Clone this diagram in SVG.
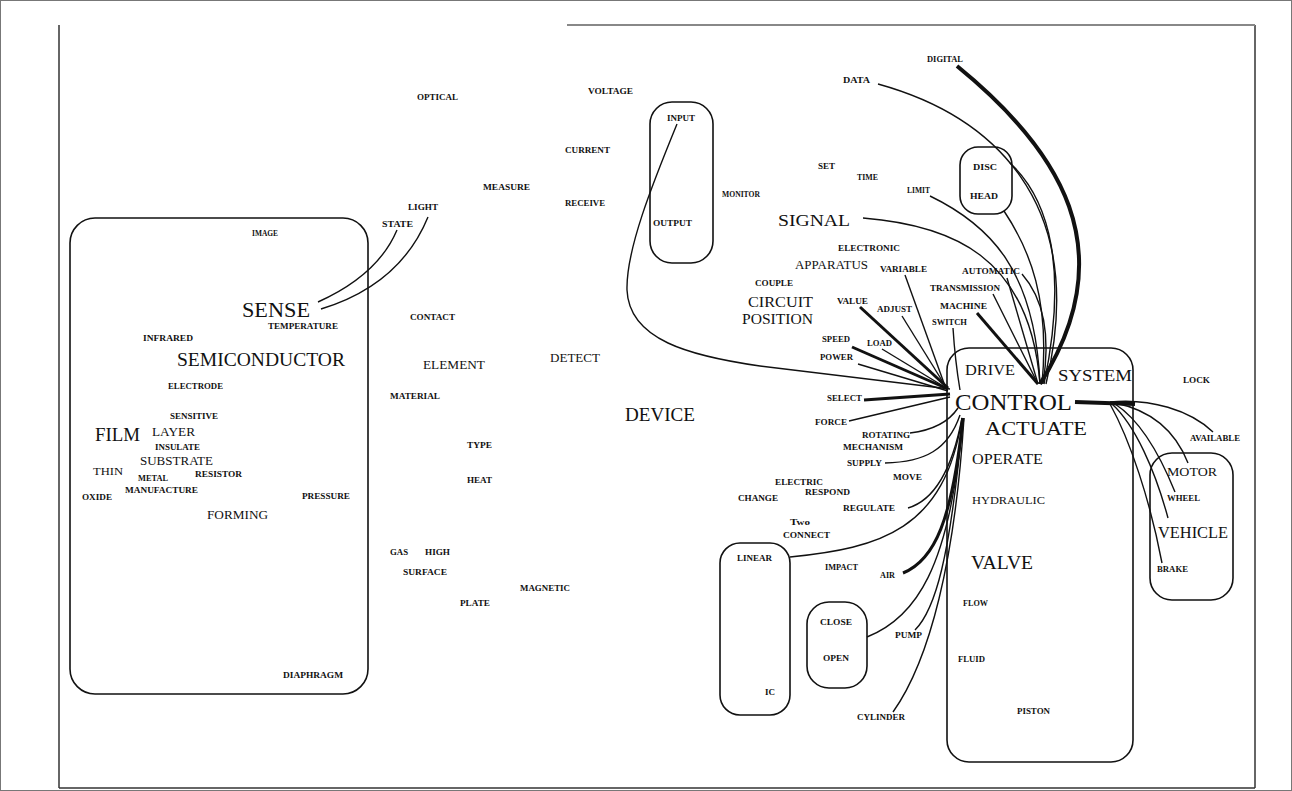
<svg xmlns="http://www.w3.org/2000/svg" width="1292" height="791" viewBox="0 0 1292 791">
<style>
text{font-family:"Liberation Serif","Times New Roman",serif;fill:#111}
.s{font-size:8px;font-weight:bold}
.b{font-weight:normal}
.box{fill:none;stroke:#111;stroke-width:1.6}
.e{fill:none;stroke:#111;stroke-width:1.4}
.t{stroke-width:3}
.tt{stroke-width:4}
.fr{stroke:#333;stroke-width:1.5;fill:none}
</style>
<rect x="0" y="0" width="1292" height="791" fill="#fff"/>
<rect x="0.5" y="0.5" width="1291" height="790" fill="none" stroke="#777" stroke-width="1"/>
<g id="frame">
<line class="fr" x1="59" y1="25" x2="59" y2="788"/>
<line class="fr" x1="59" y1="788" x2="1255" y2="788"/>
<line class="fr" x1="1255" y1="25" x2="1255" y2="788"/>
<line x1="567" y1="25" x2="1255" y2="25" stroke="#888" stroke-width="2"/>
</g>
<g id="connectors">
<path class="e" d="M318,302 Q378,275 397,230"/>
<path class="e" d="M321,309 Q400,285 428,217"/>
<path class="e" d="M677,124 C652,185 626,250 627,290 C629,340 690,356 760,366 L950,389"/>
<path class="e" d="M905,275 L945,386"/>
<path class="e t" d="M860,307 L948,388"/>
<path class="e" d="M902,316 L946,387"/>
<path class="e" d="M953,328 Q955,360 960,390"/>
<path class="e t" d="M852,347 L948,389"/>
<path class="e" d="M882,349 L948,389"/>
<path class="e" d="M858,364 L948,391"/>
<path class="e t" d="M864,400 L950,394"/>
<path class="e" d="M849,421 L950,397"/>
<path class="e tt" d="M957,66 C1060,150 1125,250 1040,384"/>
<path class="e" d="M878,84 C990,115 1090,200 1046,384"/>
<path class="e" d="M1010,163 C1050,200 1068,270 1044,384"/>
<path class="e" d="M1004,211 C1030,250 1050,300 1042,384"/>
<path class="e" d="M930,196 C990,225 1035,270 1040,384"/>
<path class="e" d="M863,218 C950,225 1030,255 1040,384"/>
<path class="e" d="M1007,278 L1038,384"/>
<path class="e" d="M1022,274 C1045,300 1050,340 1043,384"/>
<path class="e" d="M993,294 L1038,384"/>
<path class="e t" d="M977,313 L1038,384"/>
<path class="e tt" d="M1075,402 L1135,404"/>
<path class="e" d="M1110,402 C1150,398 1190,410 1213,432"/>
<path class="e" d="M1115,403 C1150,410 1175,430 1188,463"/>
<path class="e" d="M1115,404 C1140,420 1160,455 1175,492"/>
<path class="e" d="M1112,404 C1135,425 1155,470 1168,518"/>
<path class="e" d="M1110,404 C1130,440 1150,500 1162,563"/>
<path class="e" d="M910,433 C935,430 950,420 958,408"/>
<path class="e" d="M885,463 C925,462 948,450 960,415"/>
<path class="e" d="M908,508 C935,500 952,470 962,418"/>
<path class="e" d="M790,557 C880,548 945,530 962,418"/>
<path class="e t" d="M903,573 C935,560 952,520 963,418"/>
<path class="e" d="M867,637 C915,618 950,570 963,418"/>
<path class="e" d="M915,630 C935,610 950,560 963,418"/>
<path class="e" d="M893,712 C930,660 955,560 964,418"/>
</g>
<g id="box-sense"><rect class="box" x="70" y="218" width="298" height="476" rx="25"/></g>
<g id="box-io"><rect class="box" x="650" y="102" width="63" height="161" rx="22"/></g>
<g id="box-disc"><rect class="box" x="960" y="147" width="52" height="67" rx="18"/></g>
<g id="box-control"><rect class="box" x="947" y="348" width="186" height="414" rx="22"/></g>
<g id="box-vehicle"><rect class="box" x="1150" y="453" width="83" height="147" rx="22"/></g>
<g id="box-linear"><rect class="box" x="720" y="543" width="70" height="172" rx="20"/></g>
<g id="box-close"><rect class="box" x="807" y="602" width="60" height="86" rx="22"/></g>
<g id="n-image"><text class="s" x="252" y="236" textLength="26" lengthAdjust="spacingAndGlyphs">IMAGE</text></g>
<g id="n-sense"><text class="b" font-size="20" x="242" y="317" textLength="68" lengthAdjust="spacingAndGlyphs">SENSE</text></g>
<g id="n-temperature"><text class="s" x="268" y="329" textLength="70" lengthAdjust="spacingAndGlyphs">TEMPERATURE</text></g>
<g id="n-infrared"><text class="s" x="143" y="341" textLength="50" lengthAdjust="spacingAndGlyphs">INFRARED</text></g>
<g id="n-semiconductor"><text class="b" font-size="18" x="177" y="366" textLength="168" lengthAdjust="spacingAndGlyphs">SEMICONDUCTOR</text></g>
<g id="n-electrode"><text class="s" x="168" y="389" textLength="55" lengthAdjust="spacingAndGlyphs">ELECTRODE</text></g>
<g id="n-sensitive"><text class="s" x="170" y="419" textLength="48" lengthAdjust="spacingAndGlyphs">SENSITIVE</text></g>
<g id="n-film"><text class="b" font-size="18" x="95" y="441" textLength="45" lengthAdjust="spacingAndGlyphs">FILM</text></g>
<g id="n-layer"><text class="b" font-size="12" x="152" y="436" textLength="43" lengthAdjust="spacingAndGlyphs">LAYER</text></g>
<g id="n-insulate"><text class="s" x="155" y="450" textLength="45" lengthAdjust="spacingAndGlyphs">INSULATE</text></g>
<g id="n-substrate"><text class="b" font-size="12" x="140" y="465" textLength="73" lengthAdjust="spacingAndGlyphs">SUBSTRATE</text></g>
<g id="n-thin"><text class="b" font-size="11" x="93" y="475" textLength="30" lengthAdjust="spacingAndGlyphs">THIN</text></g>
<g id="n-metal"><text class="s" x="138" y="481" textLength="30" lengthAdjust="spacingAndGlyphs">METAL</text></g>
<g id="n-resistor"><text class="s" x="195" y="477" textLength="47" lengthAdjust="spacingAndGlyphs">RESISTOR</text></g>
<g id="n-oxide"><text class="s" x="82" y="500" textLength="30" lengthAdjust="spacingAndGlyphs">OXIDE</text></g>
<g id="n-manufacture"><text class="s" x="125" y="493" textLength="73" lengthAdjust="spacingAndGlyphs">MANUFACTURE</text></g>
<g id="n-pressure"><text class="s" x="302" y="499" textLength="48" lengthAdjust="spacingAndGlyphs">PRESSURE</text></g>
<g id="n-forming"><text class="b" font-size="12" x="207" y="519" textLength="61" lengthAdjust="spacingAndGlyphs">FORMING</text></g>
<g id="n-diaphragm"><text class="s" x="283" y="678" textLength="60" lengthAdjust="spacingAndGlyphs">DIAPHRAGM</text></g>
<g id="n-state"><text class="s" x="382" y="227" textLength="31" lengthAdjust="spacingAndGlyphs">STATE</text></g>
<g id="n-light"><text class="s" x="408" y="210" textLength="30" lengthAdjust="spacingAndGlyphs">LIGHT</text></g>
<g id="n-optical"><text class="s" x="417" y="100" textLength="41" lengthAdjust="spacingAndGlyphs">OPTICAL</text></g>
<g id="n-voltage"><text class="s" x="588" y="94" textLength="45" lengthAdjust="spacingAndGlyphs">VOLTAGE</text></g>
<g id="n-current"><text class="s" x="565" y="153" textLength="45" lengthAdjust="spacingAndGlyphs">CURRENT</text></g>
<g id="n-measure"><text class="s" x="483" y="190" textLength="47" lengthAdjust="spacingAndGlyphs">MEASURE</text></g>
<g id="n-receive"><text class="s" x="565" y="206" textLength="40" lengthAdjust="spacingAndGlyphs">RECEIVE</text></g>
<g id="n-input"><text class="s" x="667" y="121" textLength="28" lengthAdjust="spacingAndGlyphs">INPUT</text></g>
<g id="n-output"><text class="s" x="653" y="226" textLength="39" lengthAdjust="spacingAndGlyphs">OUTPUT</text></g>
<g id="n-monitor"><text class="s" x="722" y="197" textLength="38" lengthAdjust="spacingAndGlyphs">MONITOR</text></g>
<g id="n-contact"><text class="s" x="410" y="320" textLength="45" lengthAdjust="spacingAndGlyphs">CONTACT</text></g>
<g id="n-element"><text class="b" font-size="12" x="423" y="369" textLength="62" lengthAdjust="spacingAndGlyphs">ELEMENT</text></g>
<g id="n-detect"><text class="b" font-size="12" x="550" y="362" textLength="50" lengthAdjust="spacingAndGlyphs">DETECT</text></g>
<g id="n-material"><text class="s" x="390" y="399" textLength="50" lengthAdjust="spacingAndGlyphs">MATERIAL</text></g>
<g id="n-device"><text class="b" font-size="18" x="625" y="421" textLength="70" lengthAdjust="spacingAndGlyphs">DEVICE</text></g>
<g id="n-type"><text class="s" x="467" y="448" textLength="25" lengthAdjust="spacingAndGlyphs">TYPE</text></g>
<g id="n-heat"><text class="s" x="467" y="483" textLength="25" lengthAdjust="spacingAndGlyphs">HEAT</text></g>
<g id="n-gas"><text class="s" x="390" y="555" textLength="18" lengthAdjust="spacingAndGlyphs">GAS</text></g>
<g id="n-high"><text class="s" x="425" y="555" textLength="25" lengthAdjust="spacingAndGlyphs">HIGH</text></g>
<g id="n-surface"><text class="s" x="403" y="575" textLength="44" lengthAdjust="spacingAndGlyphs">SURFACE</text></g>
<g id="n-magnetic"><text class="s" x="520" y="591" textLength="50" lengthAdjust="spacingAndGlyphs">MAGNETIC</text></g>
<g id="n-plate"><text class="s" x="460" y="606" textLength="30" lengthAdjust="spacingAndGlyphs">PLATE</text></g>
<g id="n-digital"><text class="s" x="927" y="62" textLength="36" lengthAdjust="spacingAndGlyphs">DIGITAL</text></g>
<g id="n-data"><text class="s" x="843" y="83" textLength="27" lengthAdjust="spacingAndGlyphs">DATA</text></g>
<g id="n-set"><text class="s" x="818" y="169" textLength="17" lengthAdjust="spacingAndGlyphs">SET</text></g>
<g id="n-time"><text class="s" x="857" y="180" textLength="21" lengthAdjust="spacingAndGlyphs">TIME</text></g>
<g id="n-limit"><text class="s" x="907" y="193" textLength="23" lengthAdjust="spacingAndGlyphs">LIMIT</text></g>
<g id="n-disc"><text class="s" x="973" y="170" textLength="24" lengthAdjust="spacingAndGlyphs">DISC</text></g>
<g id="n-head"><text class="s" x="970" y="199" textLength="28" lengthAdjust="spacingAndGlyphs">HEAD</text></g>
<g id="n-signal"><text class="b" font-size="17" x="778" y="226" textLength="72" lengthAdjust="spacingAndGlyphs">SIGNAL</text></g>
<g id="n-electronic"><text class="s" x="838" y="251" textLength="62" lengthAdjust="spacingAndGlyphs">ELECTRONIC</text></g>
<g id="n-apparatus"><text class="b" font-size="12" x="795" y="269" textLength="73" lengthAdjust="spacingAndGlyphs">APPARATUS</text></g>
<g id="n-variable"><text class="s" x="880" y="272" textLength="47" lengthAdjust="spacingAndGlyphs">VARIABLE</text></g>
<g id="n-couple"><text class="s" x="755" y="286" textLength="38" lengthAdjust="spacingAndGlyphs">COUPLE</text></g>
<g id="n-circuit"><text class="b" font-size="15" x="748" y="307" textLength="65" lengthAdjust="spacingAndGlyphs">CIRCUIT</text></g>
<g id="n-position"><text class="b" font-size="15" x="742" y="324" textLength="71" lengthAdjust="spacingAndGlyphs">POSITION</text></g>
<g id="n-value"><text class="s" x="837" y="304" textLength="31" lengthAdjust="spacingAndGlyphs">VALUE</text></g>
<g id="n-adjust"><text class="s" x="877" y="312" textLength="35" lengthAdjust="spacingAndGlyphs">ADJUST</text></g>
<g id="n-switch"><text class="s" x="932" y="325" textLength="35" lengthAdjust="spacingAndGlyphs">SWITCH</text></g>
<g id="n-speed"><text class="s" x="822" y="342" textLength="28" lengthAdjust="spacingAndGlyphs">SPEED</text></g>
<g id="n-load"><text class="s" x="867" y="346" textLength="25" lengthAdjust="spacingAndGlyphs">LOAD</text></g>
<g id="n-power"><text class="s" x="820" y="360" textLength="33" lengthAdjust="spacingAndGlyphs">POWER</text></g>
<g id="n-select"><text class="s" x="827" y="401" textLength="35" lengthAdjust="spacingAndGlyphs">SELECT</text></g>
<g id="n-force"><text class="s" x="815" y="425" textLength="32" lengthAdjust="spacingAndGlyphs">FORCE</text></g>
<g id="n-rotating"><text class="s" x="862" y="438" textLength="48" lengthAdjust="spacingAndGlyphs">ROTATING</text></g>
<g id="n-mechanism"><text class="s" x="843" y="450" textLength="60" lengthAdjust="spacingAndGlyphs">MECHANISM</text></g>
<g id="n-supply"><text class="s" x="847" y="466" textLength="35" lengthAdjust="spacingAndGlyphs">SUPPLY</text></g>
<g id="n-move"><text class="s" x="893" y="480" textLength="29" lengthAdjust="spacingAndGlyphs">MOVE</text></g>
<g id="n-electric"><text class="s" x="775" y="485" textLength="48" lengthAdjust="spacingAndGlyphs">ELECTRIC</text></g>
<g id="n-respond"><text class="s" x="805" y="495" textLength="45" lengthAdjust="spacingAndGlyphs">RESPOND</text></g>
<g id="n-change"><text class="s" x="738" y="501" textLength="40" lengthAdjust="spacingAndGlyphs">CHANGE</text></g>
<g id="n-regulate"><text class="s" x="843" y="511" textLength="52" lengthAdjust="spacingAndGlyphs">REGULATE</text></g>
<g id="n-two"><text class="s" x="790" y="525" textLength="20" lengthAdjust="spacingAndGlyphs">Two</text></g>
<g id="n-connect"><text class="s" x="783" y="538" textLength="47" lengthAdjust="spacingAndGlyphs">CONNECT</text></g>
<g id="n-linear"><text class="s" x="737" y="561" textLength="35" lengthAdjust="spacingAndGlyphs">LINEAR</text></g>
<g id="n-impact"><text class="s" x="825" y="570" textLength="33" lengthAdjust="spacingAndGlyphs">IMPACT</text></g>
<g id="n-air"><text class="s" x="880" y="578" textLength="15" lengthAdjust="spacingAndGlyphs">AIR</text></g>
<g id="n-close"><text class="s" x="820" y="625" textLength="32" lengthAdjust="spacingAndGlyphs">CLOSE</text></g>
<g id="n-open"><text class="s" x="823" y="661" textLength="26" lengthAdjust="spacingAndGlyphs">OPEN</text></g>
<g id="n-pump"><text class="s" x="895" y="638" textLength="27" lengthAdjust="spacingAndGlyphs">PUMP</text></g>
<g id="n-ic"><text class="s" x="765" y="695" textLength="10" lengthAdjust="spacingAndGlyphs">IC</text></g>
<g id="n-cylinder"><text class="s" x="857" y="720" textLength="48" lengthAdjust="spacingAndGlyphs">CYLINDER</text></g>
<g id="n-automatic"><text class="s" x="962" y="274" textLength="58" lengthAdjust="spacingAndGlyphs">AUTOMATIC</text></g>
<g id="n-transmission"><text class="s" x="930" y="291" textLength="70" lengthAdjust="spacingAndGlyphs">TRANSMISSION</text></g>
<g id="n-machine"><text class="s" x="940" y="309" textLength="47" lengthAdjust="spacingAndGlyphs">MACHINE</text></g>
<g id="n-drive"><text class="b" font-size="15" x="965" y="375" textLength="50" lengthAdjust="spacingAndGlyphs">DRIVE</text></g>
<g id="n-system"><text class="b" font-size="17" x="1058" y="381" textLength="74" lengthAdjust="spacingAndGlyphs">SYSTEM</text></g>
<g id="n-control"><text class="b" font-size="24" x="955" y="410" textLength="117" lengthAdjust="spacingAndGlyphs">CONTROL</text></g>
<g id="n-actuate"><text class="b" font-size="19" x="985" y="435" textLength="102" lengthAdjust="spacingAndGlyphs">ACTUATE</text></g>
<g id="n-operate"><text class="b" font-size="14" x="972" y="464" textLength="71" lengthAdjust="spacingAndGlyphs">OPERATE</text></g>
<g id="n-hydraulic"><text class="b" font-size="11" x="972" y="504" textLength="73" lengthAdjust="spacingAndGlyphs">HYDRAULIC</text></g>
<g id="n-valve"><text class="b" font-size="18" x="971" y="569" textLength="62" lengthAdjust="spacingAndGlyphs">VALVE</text></g>
<g id="n-flow"><text class="s" x="963" y="606" textLength="25" lengthAdjust="spacingAndGlyphs">FLOW</text></g>
<g id="n-fluid"><text class="s" x="958" y="662" textLength="27" lengthAdjust="spacingAndGlyphs">FLUID</text></g>
<g id="n-piston"><text class="s" x="1017" y="714" textLength="33" lengthAdjust="spacingAndGlyphs">PISTON</text></g>
<g id="n-lock"><text class="s" x="1183" y="383" textLength="27" lengthAdjust="spacingAndGlyphs">LOCK</text></g>
<g id="n-available"><text class="s" x="1190" y="441" textLength="50" lengthAdjust="spacingAndGlyphs">AVAILABLE</text></g>
<g id="n-motor"><text class="b" font-size="13" x="1167" y="476" textLength="50" lengthAdjust="spacingAndGlyphs">MOTOR</text></g>
<g id="n-wheel"><text class="s" x="1167" y="501" textLength="33" lengthAdjust="spacingAndGlyphs">WHEEL</text></g>
<g id="n-vehicle"><text class="b" font-size="16" x="1158" y="538" textLength="70" lengthAdjust="spacingAndGlyphs">VEHICLE</text></g>
<g id="n-brake"><text class="s" x="1157" y="572" textLength="31" lengthAdjust="spacingAndGlyphs">BRAKE</text></g>
</svg>
